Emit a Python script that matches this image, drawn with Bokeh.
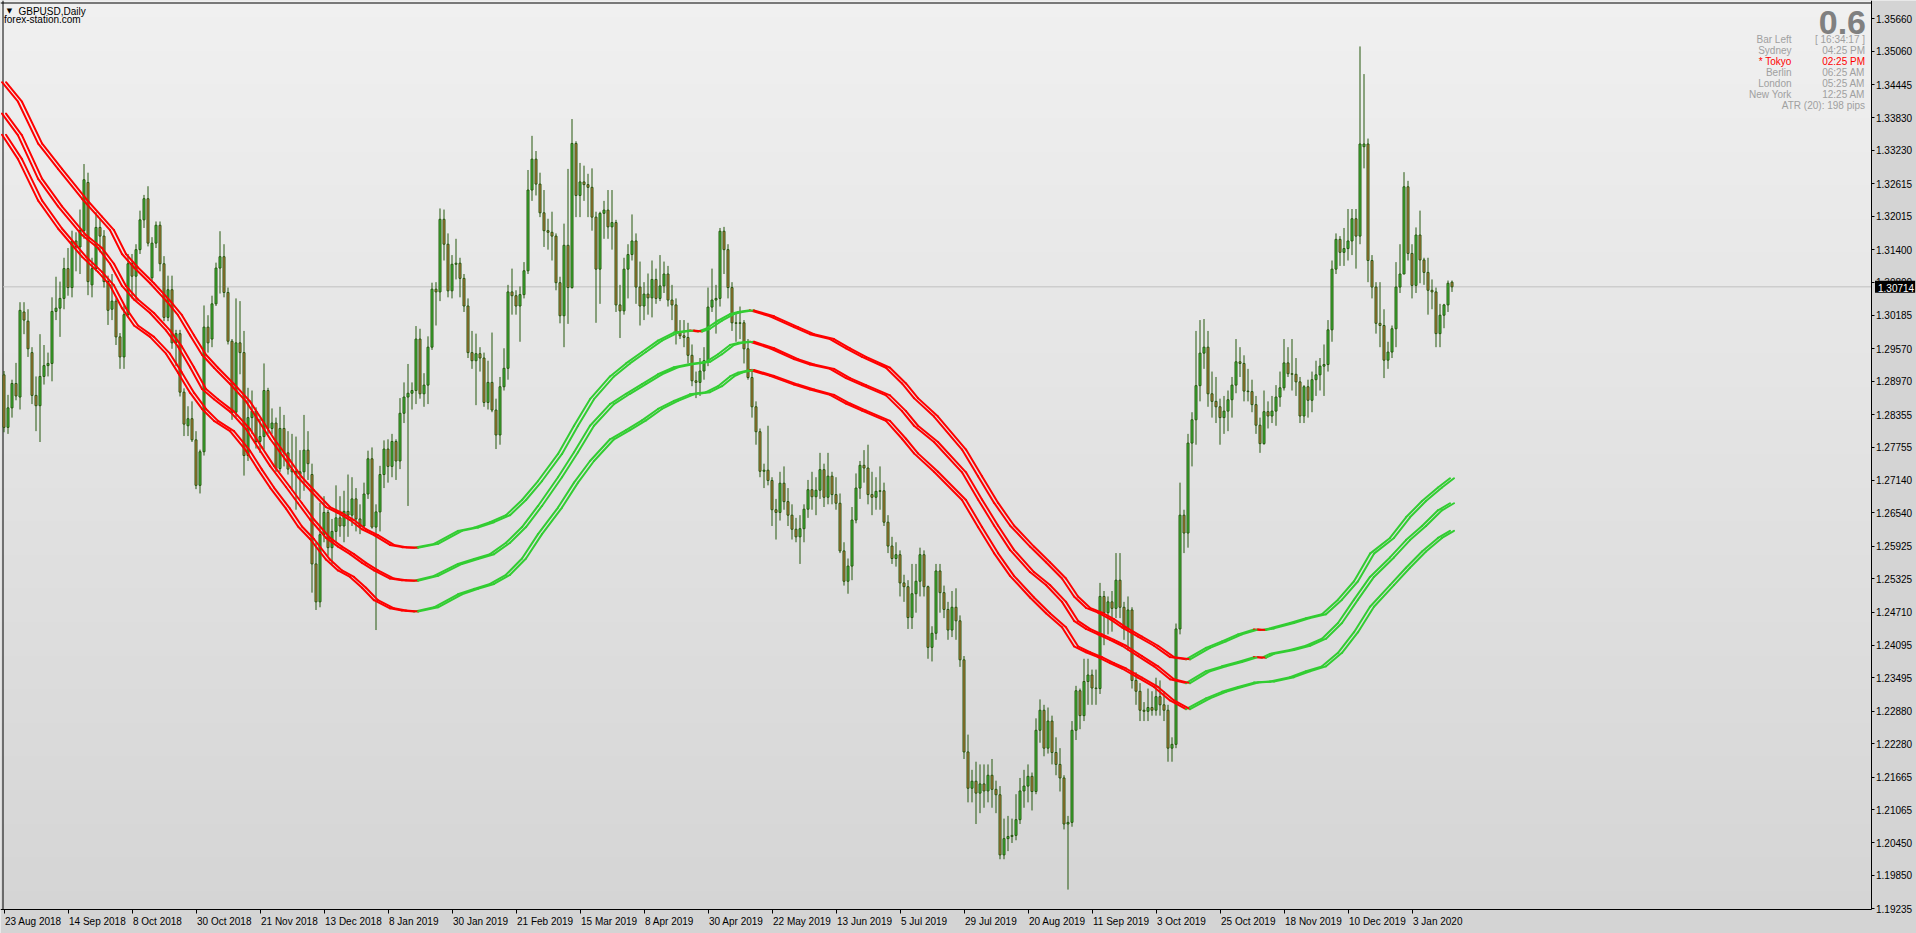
import numpy as np
from bokeh.plotting import figure
from bokeh.models import Range1d, FixedTicker, NumeralTickFormatter, Label, ColumnDataSource
from bokeh.embed import file_html
from bokeh.resources import INLINE

# ---------------- data ----------------
symbol_text = "GBPUSD,Daily"
site_text = "forex-station.com"

opens = [
 1.2909,1.2812,1.2848,1.2893,1.2868,1.3025,1.3008,1.2950,1.2871,1.2852,
 1.2906,1.2926,1.2930,1.3026,1.3032,1.3050,1.3105,1.3070,1.3156,1.3145,
 1.3175,1.3264,1.3075,1.3105,1.3181,1.3165,1.3081,1.3030,1.3045,1.2979,
 1.2942,1.3020,1.3114,1.3091,1.3140,1.3195,1.3234,1.3088,1.3152,1.3185,
 1.3114,1.3015,1.3066,1.2968,1.2985,1.2877,1.2815,1.2828,1.2789,1.2705,
 1.2767,1.2997,1.2975,1.3040,1.3106,1.3127,1.3061,1.2971,1.2840,1.2968,
 1.2950,1.2760,1.2830,1.2842,1.2786,1.2795,1.2880,1.2810,1.2820,1.2736,
 1.2810,1.2765,1.2735,1.2730,1.2725,1.2730,1.2770,1.2725,1.2560,1.2490,
 1.2614,1.2655,1.2590,1.2620,1.2645,1.2630,1.2657,1.2650,1.2680,1.2643,
 1.2630,1.2689,1.2754,1.2628,1.2656,1.2725,1.2772,1.2740,1.2786,1.2750,
 1.2838,1.2868,1.2875,1.2880,1.2975,1.2874,1.2890,1.2960,1.3067,1.3062,
 1.3196,1.3150,1.3064,1.3113,1.3115,1.3087,1.3036,1.2950,1.2935,1.2948,
 1.2940,1.2858,1.2895,1.2844,1.2798,1.2887,1.2921,1.3062,1.3055,1.3036,
 1.3057,1.3101,1.3250,1.3307,1.3261,1.3208,1.3175,1.3172,1.3165,1.3079,
 1.3018,1.3148,1.3070,1.3336,1.3240,1.3265,1.3260,1.3255,1.3200,1.3104,
 1.3207,1.3213,1.3182,1.3190,1.3038,1.3027,1.3104,1.3131,1.3156,1.3071,
 1.3036,1.3058,1.3051,1.3085,1.3050,1.3073,1.3095,1.3047,1.3038,1.2987,
 1.2981,1.2978,1.2945,1.2898,1.2895,1.2916,1.2935,1.3034,1.3047,1.3050,
 1.3174,1.3140,1.3070,1.3005,1.3004,1.3005,1.2957,1.2904,1.2850,1.2804,
 1.2731,1.2733,1.2714,1.2660,1.2655,1.2709,1.2675,1.2650,1.2624,1.2610,
 1.2625,1.2661,1.2697,1.2684,1.2696,1.2734,1.2683,1.2722,1.2688,1.2672,
 1.2584,1.2528,1.2556,1.2641,1.2700,1.2742,1.2737,1.2688,1.2683,1.2694,
 1.2695,1.2637,1.2593,1.2570,1.2577,1.2525,1.2518,1.2461,1.2505,1.2528,
 1.2577,1.2518,1.2406,1.2432,1.2547,1.2507,1.2476,1.2438,1.2480,1.2455,
 1.2383,1.2213,1.2146,1.2159,1.2137,1.2154,1.2141,1.2170,1.2144,1.2134,
 1.2023,1.2053,1.2057,1.2059,1.2088,1.2141,1.2150,1.2168,1.2140,1.2253,
 1.2290,1.2220,1.2270,1.2212,1.2190,1.2165,1.2080,1.2083,1.2253,1.2326,
 1.2280,1.2343,1.2355,1.2331,1.2330,1.2500,1.2470,1.2490,1.2478,1.2530,
 1.2480,1.2440,1.2475,1.2345,1.2325,1.2290,1.2288,1.2295,1.2290,1.2315,
 1.2300,1.2290,1.2220,1.2227,1.2440,1.2650,1.2617,1.2783,1.2826,1.2889,
 1.2949,1.2960,1.2874,1.2860,1.2850,1.2830,1.2842,1.2863,1.2890,1.2933,
 1.2930,1.2879,1.2878,1.2854,1.2816,1.2782,1.2841,1.2833,1.2842,1.2868,
 1.2885,1.2931,1.2911,1.2910,1.2896,1.2833,1.2887,1.2862,1.2900,1.2909,
 1.2925,1.2928,1.2992,1.3104,1.3159,1.3135,1.3142,1.3156,1.3197,1.3165,
 1.3330,1.3335,1.3120,1.3071,1.3004,1.3000,1.2936,1.2951,1.2994,1.3071,
 1.3095,1.3256,1.3133,1.3074,1.3167,1.3121,1.3098,1.3065,1.3062,1.2985,
 1.3019,1.3038,1.3080]

highs = [
 1.2916,1.2872,1.2900,1.2931,1.3043,1.3043,1.3030,1.2960,1.2906,1.2984,
 1.2964,1.2950,1.3052,1.3090,1.3081,1.3125,1.3143,1.3175,1.3172,1.3214,
 1.3298,1.3282,1.3125,1.3209,1.3198,1.3176,1.3092,1.3095,1.3050,1.2986,
 1.3037,1.3132,1.3132,1.3150,1.3212,1.3241,1.3257,1.3163,1.3192,1.3192,
 1.3128,1.3092,1.3092,1.2992,1.2992,1.2884,1.2851,1.2860,1.2805,1.2771,
 1.3037,1.3019,1.3055,1.3116,1.3174,1.3150,1.3070,1.2975,1.3050,1.3045,
 1.2990,1.2885,1.2880,1.2849,1.2828,1.2930,1.2885,1.2847,1.2830,1.2850,
 1.2835,1.2805,1.2800,1.2795,1.2770,1.2835,1.2805,1.2745,1.2600,1.2673,
 1.2685,1.2660,1.2643,1.2705,1.2685,1.2695,1.2725,1.2720,1.2700,1.2670,
 1.2710,1.2769,1.2775,1.2670,1.2741,1.2788,1.2790,1.2800,1.2790,1.2866,
 1.2895,1.2929,1.2895,1.2999,1.2994,1.2912,1.2980,1.3079,1.3080,1.3216,
 1.3214,1.3170,1.3130,1.3160,1.3125,1.3095,1.3050,1.2990,1.2985,1.2960,
 1.2950,1.2935,1.2987,1.2865,1.2905,1.2958,1.3075,1.3105,1.3065,1.3072,
 1.3117,1.3287,1.3350,1.3322,1.3282,1.3250,1.3197,1.3210,1.3170,1.3090,
 1.3188,1.3289,1.3381,1.3340,1.3300,1.3295,1.3280,1.3290,1.3210,1.3210,
 1.3230,1.3250,1.3250,1.3195,1.3075,1.3125,1.3150,1.3205,1.3170,1.3118,
 1.3080,1.3096,1.3120,1.3105,1.3130,1.3118,1.3110,1.3075,1.3050,1.3010,
 1.3010,1.3005,1.2965,1.2915,1.2940,1.2960,1.3070,1.3105,1.3075,1.3180,
 1.3182,1.3150,1.3080,1.3025,1.3035,1.3010,1.2975,1.2920,1.2860,1.2810,
 1.2745,1.2815,1.2720,1.2680,1.2730,1.2740,1.2700,1.2670,1.2645,1.2650,
 1.2670,1.2715,1.2730,1.2720,1.2765,1.2745,1.2765,1.2730,1.2720,1.2690,
 1.2600,1.2570,1.2665,1.2727,1.2750,1.2770,1.2780,1.2730,1.2720,1.2740,
 1.2710,1.2650,1.2610,1.2600,1.2585,1.2540,1.2530,1.2560,1.2560,1.2590,
 1.2585,1.2520,1.2445,1.2560,1.2560,1.2520,1.2490,1.2510,1.2515,1.2465,
 1.2390,1.2245,1.2180,1.2195,1.2190,1.2190,1.2190,1.2200,1.2160,1.2150,
 1.2090,1.2095,1.2090,1.2135,1.2165,1.2180,1.2190,1.2175,1.2275,1.2310,
 1.2300,1.2295,1.2280,1.2240,1.2220,1.2170,1.2095,1.2270,1.2335,1.2330,
 1.2385,1.2385,1.2365,1.2365,1.2525,1.2510,1.2500,1.2510,1.2580,1.2580,
 1.2490,1.2500,1.2480,1.2360,1.2340,1.2305,1.2330,1.2325,1.2350,1.2345,
 1.2325,1.2300,1.2240,1.2450,1.2710,1.2660,1.2800,1.2840,1.2990,1.3010,
 1.3012,1.2990,1.2915,1.2905,1.2865,1.2870,1.2880,1.2905,1.2975,1.2960,
 1.2945,1.2920,1.2900,1.2870,1.2830,1.2880,1.2860,1.2870,1.2890,1.2915,
 1.2975,1.2960,1.2975,1.2940,1.2905,1.2890,1.2900,1.2915,1.2935,1.2940,
 1.2965,1.3010,1.3120,1.3170,1.3165,1.3180,1.3215,1.3215,1.3215,1.3515,
 1.3464,1.3345,1.3130,1.3080,1.3080,1.3030,1.2970,1.3000,1.3117,1.3150,
 1.3283,1.3267,1.3150,1.3181,1.3212,1.3125,1.3125,1.3085,1.3070,1.3040,
 1.3040,1.3083,1.3083]

lows = [
 1.2803,1.2800,1.2830,1.2862,1.2845,1.2984,1.2942,1.2855,1.2805,1.2785,
 1.2891,1.2906,1.2897,1.3010,1.2979,1.3030,1.3055,1.3052,1.3100,1.3095,
 1.3160,1.3056,1.3052,1.3100,1.3135,1.3070,1.3001,1.3010,1.2964,1.2920,
 1.2920,1.3015,1.3050,1.3045,1.3132,1.3180,1.3146,1.3080,1.3143,1.3100,
 1.3008,1.3008,1.2957,1.2925,1.2869,1.2796,1.2796,1.2785,1.2698,1.2690,
 1.2760,1.2950,1.2960,1.3036,1.3059,1.3052,1.2965,1.2826,1.2830,1.2910,
 1.2723,1.2750,1.2800,1.2773,1.2765,1.2771,1.2800,1.2800,1.2730,1.2730,
 1.2740,1.2725,1.2695,1.2660,1.2680,1.2695,1.2715,1.2507,1.2475,1.2480,
 1.2600,1.2575,1.2560,1.2600,1.2610,1.2600,1.2610,1.2630,1.2620,1.2615,
 1.2625,1.2680,1.2625,1.2438,1.2620,1.2700,1.2710,1.2720,1.2715,1.2735,
 1.2820,1.2667,1.2845,1.2855,1.2865,1.2850,1.2855,1.2955,1.3000,1.3045,
 1.3120,1.3052,1.3050,1.3085,1.3052,1.3025,1.2940,1.2920,1.2853,1.2915,
 1.2850,1.2845,1.2840,1.2772,1.2780,1.2880,1.2900,1.3020,1.3020,1.2970,
 1.3050,1.3095,1.3230,1.3240,1.3200,1.3145,1.3140,1.3120,1.3065,1.3004,
 1.2960,1.3003,1.3068,1.3200,1.3200,1.3230,1.3200,1.3175,1.3005,1.3040,
 1.3160,1.3160,1.3140,1.3025,1.2977,1.3020,1.3050,1.3120,1.3040,1.3000,
 1.3010,1.3020,1.3015,1.3040,1.3045,1.3060,1.3035,1.3010,1.2965,1.2975,
 1.2960,1.2930,1.2888,1.2866,1.2870,1.2900,1.2925,1.3025,1.2985,1.3035,
 1.3095,1.3050,1.2990,1.2970,1.2975,1.2930,1.2900,1.2830,1.2780,1.2720,
 1.2700,1.2705,1.2630,1.2605,1.2640,1.2660,1.2630,1.2605,1.2600,1.2560,
 1.2600,1.2645,1.2660,1.2650,1.2680,1.2665,1.2670,1.2670,1.2660,1.2580,
 1.2520,1.2505,1.2530,1.2635,1.2680,1.2710,1.2670,1.2650,1.2660,1.2660,
 1.2630,1.2580,1.2560,1.2555,1.2500,1.2490,1.2440,1.2440,1.2470,1.2500,
 1.2500,1.2385,1.2380,1.2420,1.2470,1.2460,1.2420,1.2425,1.2420,1.2370,
 1.2200,1.2120,1.2120,1.2080,1.2100,1.2110,1.2120,1.2110,1.2100,1.2015,
 1.2015,1.2030,1.2045,1.2050,1.2080,1.2110,1.2120,1.2105,1.2135,1.2230,
 1.2205,1.2210,1.2190,1.2170,1.2140,1.2070,1.1959,1.2075,1.2235,1.2255,
 1.2270,1.2300,1.2300,1.2300,1.2320,1.2410,1.2430,1.2435,1.2460,1.2460,
 1.2420,1.2400,1.2330,1.2300,1.2270,1.2270,1.2270,1.2280,1.2280,1.2280,
 1.2270,1.2195,1.2195,1.2220,1.2430,1.2580,1.2590,1.2740,1.2780,1.2860,
 1.2920,1.2850,1.2830,1.2820,1.2780,1.2800,1.2805,1.2830,1.2875,1.2905,
 1.2860,1.2860,1.2840,1.2800,1.2765,1.2780,1.2810,1.2820,1.2815,1.2850,
 1.2880,1.2905,1.2880,1.2870,1.2820,1.2820,1.2830,1.2840,1.2870,1.2880,
 1.2870,1.2915,1.2970,1.3095,1.3110,1.3110,1.3120,1.3130,1.3105,1.3150,
 1.3290,1.3080,1.3050,1.2985,1.2960,1.2903,1.2920,1.2940,1.2960,1.3060,
 1.3095,1.3120,1.3050,1.3060,1.3078,1.3075,1.3020,1.3030,1.2960,1.2960,
 1.2995,1.3025,1.3062]

closes = [
 1.2812,1.2848,1.2893,1.2870,1.3028,1.3010,1.2957,1.2871,1.2852,1.2906,
 1.2926,1.2930,1.3026,1.3032,1.3050,1.3105,1.3070,1.3156,1.3145,1.3175,
 1.3269,1.3081,1.3105,1.3181,1.3165,1.3081,1.3028,1.3045,1.2979,1.2942,
 1.3020,1.3114,1.3091,1.3140,1.3195,1.3234,1.3152,1.3152,1.3185,1.3114,
 1.3015,1.3066,1.2968,1.2985,1.2877,1.2818,1.2828,1.2789,1.2705,1.2767,
 1.2997,1.2968,1.3040,1.3106,1.3127,1.3061,1.2971,1.2840,1.2968,1.2950,
 1.2760,1.2830,1.2842,1.2786,1.2795,1.2880,1.2810,1.2820,1.2736,1.2810,
 1.2765,1.2735,1.2730,1.2725,1.2730,1.2770,1.2745,1.2560,1.2490,1.2614,
 1.2655,1.2590,1.2620,1.2645,1.2630,1.2657,1.2650,1.2680,1.2643,1.2630,
 1.2689,1.2754,1.2628,1.2656,1.2725,1.2772,1.2740,1.2786,1.2750,1.2838,
 1.2868,1.2875,1.2880,1.2975,1.2874,1.2890,1.2960,1.3067,1.3062,1.3196,
 1.3150,1.3064,1.3113,1.3115,1.3087,1.3036,1.2950,1.2935,1.2948,1.2940,
 1.2858,1.2895,1.2844,1.2798,1.2887,1.2921,1.3062,1.3055,1.3036,1.3057,
 1.3101,1.3250,1.3307,1.3261,1.3208,1.3175,1.3172,1.3165,1.3079,1.3018,
 1.3148,1.3070,1.3336,1.3240,1.3265,1.3260,1.3255,1.3200,1.3104,1.3207,
 1.3213,1.3182,1.3190,1.3038,1.3027,1.3104,1.3131,1.3156,1.3071,1.3036,
 1.3058,1.3051,1.3085,1.3050,1.3073,1.3095,1.3047,1.3038,1.2987,1.2981,
 1.2978,1.2945,1.2898,1.2895,1.2916,1.2935,1.3034,1.3047,1.3050,1.3174,
 1.3140,1.3070,1.3005,1.3004,1.3005,1.2957,1.2904,1.2850,1.2804,1.2731,
 1.2733,1.2714,1.2660,1.2655,1.2709,1.2675,1.2650,1.2624,1.2610,1.2625,
 1.2661,1.2697,1.2684,1.2696,1.2734,1.2683,1.2722,1.2688,1.2672,1.2584,
 1.2528,1.2556,1.2641,1.2700,1.2742,1.2737,1.2688,1.2683,1.2694,1.2695,
 1.2637,1.2593,1.2570,1.2577,1.2525,1.2518,1.2461,1.2505,1.2528,1.2577,
 1.2518,1.2406,1.2432,1.2547,1.2507,1.2476,1.2438,1.2480,1.2455,1.2383,
 1.2213,1.2146,1.2159,1.2137,1.2154,1.2141,1.2170,1.2144,1.2134,1.2023,
 1.2053,1.2057,1.2059,1.2088,1.2141,1.2150,1.2168,1.2140,1.2253,1.2290,
 1.2220,1.2270,1.2212,1.2190,1.2165,1.2080,1.2083,1.2253,1.2326,1.2280,
 1.2343,1.2355,1.2331,1.2330,1.2500,1.2470,1.2490,1.2478,1.2530,1.2480,
 1.2440,1.2475,1.2345,1.2325,1.2290,1.2288,1.2295,1.2290,1.2315,1.2300,
 1.2290,1.2220,1.2227,1.2440,1.2650,1.2617,1.2783,1.2826,1.2889,1.2949,
 1.2960,1.2874,1.2860,1.2850,1.2830,1.2842,1.2863,1.2890,1.2933,1.2930,
 1.2879,1.2878,1.2854,1.2816,1.2782,1.2841,1.2833,1.2842,1.2868,1.2885,
 1.2931,1.2911,1.2910,1.2896,1.2833,1.2887,1.2862,1.2900,1.2909,1.2925,
 1.2928,1.2992,1.3104,1.3159,1.3135,1.3142,1.3156,1.3197,1.3165,1.3335,
 1.3335,1.3120,1.3071,1.3004,1.3000,1.2936,1.2951,1.2994,1.3071,1.3095,
 1.3256,1.3133,1.3074,1.3167,1.3121,1.3098,1.3065,1.3062,1.2985,1.3019,
 1.3038,1.3078,1.30714]

# envelope bands (three smoothed lines), sampled at these bar indices
band_bars = [0,4,9,14,20,24,27,30,33,37,41,44,47,50,53,57,61,64,67,71,
             74,77,81,84,87,90,93,97,100,103,108,114,118,122,126,130,134,139,143,147,
             152,156,160,164,168,172,174,176,179,182,184,187,192,198,202,207,211,215,221,225,
             228,233,240,244,248,252,257,261,265,268,271,274,277,280,284,288,292,296,301,305,
             309,313,315,317,322,326,330,334,338,342,347,351,355,359,362]
band_upper = [1.3449,1.3413,1.3336,1.3289,1.3234,1.3201,1.3176,1.3132,1.3107,1.3078,
              1.3046,1.3019,1.2982,1.2946,1.2922,1.2892,1.2860,1.2826,1.2791,1.2751,
              1.2720,1.2696,1.2665,1.2654,1.2641,1.2624,1.2613,1.2595,1.2591,1.2590,
              1.2597,1.2621,1.2627,1.2637,1.2650,1.2678,1.2713,1.2763,1.2815,1.2864,
              1.2906,1.2930,1.2951,1.2972,1.2987,1.2991,1.2989,1.2994,1.3009,1.3021,
              1.3025,1.3028,1.3017,1.2997,1.2984,1.2975,1.2958,1.2942,1.2922,1.2893,
              1.2866,1.2832,1.2771,1.2722,1.2673,1.2631,1.2592,1.2563,1.2533,1.2500,
              1.2479,1.2470,1.2458,1.2443,1.2426,1.2409,1.2388,1.2384,1.2405,1.2417,
              1.2430,1.2439,1.2438,1.2441,1.2451,1.2460,1.2467,1.2494,1.2528,1.2579,
              1.2608,1.2646,1.2676,1.2701,1.2718]
band_middle = [1.3391,1.3351,1.3271,1.3220,1.3167,1.3143,1.3114,1.3073,1.3048,1.3023,
               1.2991,1.2961,1.2923,1.2883,1.2864,1.2841,1.2809,1.2775,1.2741,1.2702,
               1.2672,1.2642,1.2608,1.2592,1.2578,1.2562,1.2548,1.2533,1.2530,1.2529,
               1.2538,1.2560,1.2569,1.2578,1.2599,1.2628,1.2667,1.2720,1.2766,1.2815,
               1.2855,1.2874,1.2892,1.2910,1.2923,1.2929,1.2931,1.2933,1.2947,1.2964,
               1.2968,1.2970,1.2958,1.2938,1.2928,1.2920,1.2903,1.2890,1.2871,1.2842,
               1.2815,1.2785,1.2729,1.2679,1.2631,1.2586,1.2545,1.2521,1.2490,1.2455,
               1.2440,1.2430,1.2420,1.2409,1.2390,1.2371,1.2347,1.2340,1.2362,1.2371,
               1.2379,1.2388,1.2387,1.2394,1.2401,1.2409,1.2422,1.2451,1.2494,1.2536,
               1.2572,1.2604,1.2630,1.2659,1.2672]
band_lower = [1.3352,1.3307,1.3231,1.3179,1.3127,1.3099,1.3074,1.3032,1.3000,1.2979,
              1.2948,1.2913,1.2876,1.2846,1.2824,1.2805,1.2769,1.2734,1.2701,1.2662,
              1.2629,1.2606,1.2568,1.2548,1.2536,1.2516,1.2493,1.2478,1.2474,1.2472,
              1.2480,1.2504,1.2514,1.2523,1.2540,1.2570,1.2615,1.2664,1.2710,1.2750,
              1.2790,1.2807,1.2825,1.2846,1.2861,1.2873,1.2875,1.2877,1.2888,1.2906,
              1.2913,1.2918,1.2907,1.2891,1.2882,1.2872,1.2856,1.2843,1.2824,1.2791,
              1.2764,1.2730,1.2678,1.2628,1.2580,1.2538,1.2498,1.2469,1.2443,1.2408,
              1.2397,1.2388,1.2377,1.2367,1.2350,1.2333,1.2308,1.2292,1.2312,1.2324,
              1.2333,1.2341,1.2342,1.2343,1.2351,1.2362,1.2371,1.2396,1.2434,1.2481,
              1.2521,1.2553,1.2583,1.2608,1.2621]

date_label_bars = [0,16,32,48,64,80,96,112,128,144,160,176,192,208,224,240,256,272,288,304,320,336,352]
date_labels = ["23 Aug 2018","14 Sep 2018","8 Oct 2018","30 Oct 2018","21 Nov 2018","13 Dec 2018",
               "8 Jan 2019","30 Jan 2019","21 Feb 2019","15 Mar 2019","8 Apr 2019","30 Apr 2019",
               "22 May 2019","13 Jun 2019","5 Jul 2019","29 Jul 2019","20 Aug 2019","11 Sep 2019",
               "3 Oct 2019","25 Oct 2019","18 Nov 2019","10 Dec 2019","3 Jan 2020"]

price_ticks = [1.35660,1.35060,1.34445,1.33830,1.33230,1.32615,1.32015,1.31400,1.30800,1.30185,
               1.29570,1.28970,1.28355,1.27755,1.27140,1.26540,1.25925,1.25325,1.24710,1.24095,
               1.23495,1.22880,1.22280,1.21665,1.21065,1.20450,1.19850,1.19235]

spread_text = "0.6"
info_names = ["Bar Left", "Sydney", "* Tokyo", "Berlin", "London", "New York"]
info_values = ["[ 16:34:17 ]", "04:25 PM", "02:25 PM", "06:25 AM", "05:25 AM", "12:25 AM"]
info_active = "* Tokyo"
atr_text = "ATR (20): 198 pips"

# ---------------- style / layout ----------------
FONT = "Liberation Sans"
WICK = "#27580F"
BULL = "#40C23A"
BEAR = "#CD7A3E"
RED = "#FF0000"
GREEN = "#32CD32"
INFO_GREY = "#A0A0A0"
PANEL_GREY = "#D4D4D4"

W, H = 1916, 933            # canvas; the frame covers all of it
PPB = 4.0                   # px per bar
XS = -0.875                 # data x at canvas left edge
XE = XS + W / PPB
PPU = 5418.6                # px per price unit
Y_TOP = 1.35998             # data y at canvas top edge
YE = Y_TOP - H / PPU
AXIS_CX = 1870.5            # canvas x of the price axis line
BOTTOM_CY = 908.5           # canvas y of the time axis line


def CX(c):
    return XS + c / PPB


def CY(c):
    return Y_TOP - c / PPU


XR = CX(AXIS_CX)
YB = CY(BOTTOM_CY)

p = figure(width=W, height=H, x_range=Range1d(XS, XE), y_range=Range1d(YE, Y_TOP),
           y_axis_location="right", toolbar_location=None, output_backend="svg",
           min_border_left=0, min_border_right=0, min_border_top=0, min_border_bottom=0)
p.background_fill_color = PANEL_GREY
p.border_fill_color = PANEL_GREY
p.outline_line_color = None
p.grid.visible = False

# vertical gradient background of the chart area
rows = int(BOTTOM_CY)
img = np.empty((rows, 1), dtype=np.uint32)
view = img.view(dtype=np.uint8).reshape((rows, 1, 4))
shade = np.linspace(213, 240, rows).round().astype(np.uint8)
view[:, 0, 0] = shade
view[:, 0, 1] = shade
view[:, 0, 2] = shade
view[:, 0, 3] = 255
p.image_rgba(image=[img], x=XS, y=YB, dw=XR - XS, dh=Y_TOP - YB)

# chart border (left, top)
p.segment(x0=[CX(2.5), XS], y0=[YB, CY(2.5)], x1=[CX(2.5), XR], y1=[Y_TOP, CY(2.5)],
          line_color="black", line_width=1)

# current price line
p.segment(x0=[CX(2.5)], y0=[closes[-1]], x1=[XR], y1=[closes[-1]], line_color="#C0C0C0", line_width=1)

# candles
o = np.array(opens)
c = np.array(closes)
idx = np.arange(len(closes))
src = ColumnDataSource(dict(
    x=idx, high=highs, low=lows,
    top=np.maximum(o, c), bottom=np.minimum(o, c),
    fill=[BULL if cc >= oo else BEAR for oo, cc in zip(o, c)]))
p.segment(x0="x", y0="low", x1="x", y1="high", source=src, line_color=WICK, line_width=1)
p.vbar(x="x", width=0.5, top="top", bottom="bottom", source=src,
       fill_color="fill", line_color=WICK, line_width=1)

# envelope bands: red while falling, green while rising, drawn as a doubled line
for band in (band_upper, band_middle, band_lower):
    xs, ys, cols = [], [], []
    for i in range(len(band_bars) - 1):
        xs.append([band_bars[i], band_bars[i + 1]])
        ys.append([band[i], band[i + 1]])
        cols.append(GREEN if band[i + 1] > band[i] else RED)
    for shift in (-0.5, 0.5):
        bsrc = ColumnDataSource(dict(xs=[[v + shift for v in seg] for seg in xs], ys=ys, col=cols))
        p.multi_line(xs="xs", ys="ys", line_color="col", line_width=2, line_cap="round", source=bsrc)

# price axis (right), fixed at the chart edge
yax = p.yaxis[0]
yax.fixed_location = XR
yax.bounds = (YB, Y_TOP)
yax.ticker = FixedTicker(ticks=price_ticks)
yax.formatter = NumeralTickFormatter(format="0.00000")
yax.major_label_text_font = FONT
yax.major_label_text_font_size = "10px"
yax.major_label_text_color = "black"
yax.major_tick_out = 3
yax.major_tick_in = 0
yax.minor_tick_out = 0
yax.minor_tick_in = 0
yax.major_label_standoff = 2
yax.axis_line_color = "black"
yax.major_tick_line_color = "black"

# time axis (bottom), fixed at the chart bottom; its texts are placed MT4-style below
xax = p.xaxis[0]
xax.fixed_location = YB
xax.bounds = (XS, XR)
xax.ticker = FixedTicker(ticks=date_label_bars)
xax.major_label_overrides = {b: "" for b in date_label_bars}
xax.major_tick_out = 4
xax.major_tick_in = 0
xax.minor_tick_out = 0
xax.minor_tick_in = 0
xax.axis_line_color = "black"
xax.major_tick_line_color = "black"

for b, t in zip(date_label_bars, date_labels):
    p.add_layout(Label(x=b, y=CY(921), text=t, x_offset=1,
                       text_font=FONT, text_font_size="10px", text_color="black",
                       text_align="left", text_baseline="middle"))

# current price box on the axis
box_kw = dict(x=XR, y=closes[-1], text=f"{closes[-1]:.5f}",
              text_font=FONT, text_font_size="10px", text_color="white",
              text_align="left", text_baseline="middle",
              background_fill_color="black")
try:
    price_box = Label(x_offset=4, padding=(3, 1, 3, 1), **box_kw)
except Exception:
    price_box = Label(x_offset=2, **box_kw)
p.add_layout(price_box)

# top-left symbol caption
p.add_layout(Label(x=CX(9), y=CY(10.5), text="\u25BC", text_font="DejaVu Sans", text_font_size="7px",
                   text_color="black", text_align="center", text_baseline="middle"))
p.add_layout(Label(x=CX(18), y=CY(11), text=symbol_text, text_font=FONT, text_font_size="10px",
                   text_color="black", text_align="left", text_baseline="middle"))
p.add_layout(Label(x=CX(3.5), y=CY(19), text=site_text, text_font=FONT, text_font_size="10px",
                   text_color="black", text_align="left", text_baseline="middle"))

# info panel (top right)
VAL_R = 1864.5
NAME_R = 1791
p.add_layout(Label(x=CX(VAL_R + 1), y=CY(21.8), text=spread_text, text_font=FONT, text_font_size="34px",
                   text_font_style="bold", text_color="#808080", text_align="right",
                   text_baseline="alphabetic"))
row_y = [38.7, 50, 61, 72, 83, 94]
for ry, name, val in zip(row_y, info_names, info_values):
    col = RED if name == info_active else INFO_GREY
    p.add_layout(Label(x=CX(NAME_R), y=CY(ry), text=name, text_font=FONT, text_font_size="10px",
                       text_color=col, text_align="right", text_baseline="middle"))
    p.add_layout(Label(x=CX(VAL_R), y=CY(ry), text=val, text_font=FONT, text_font_size="10px",
                       text_color=col, text_align="right", text_baseline="middle"))
p.add_layout(Label(x=CX(VAL_R), y=CY(105), text=atr_text, text_font=FONT, text_font_size="10px",
                   text_color=INFO_GREY, text_align="right", text_baseline="middle"))

open("out.html", "w").write(file_html(p, INLINE))
